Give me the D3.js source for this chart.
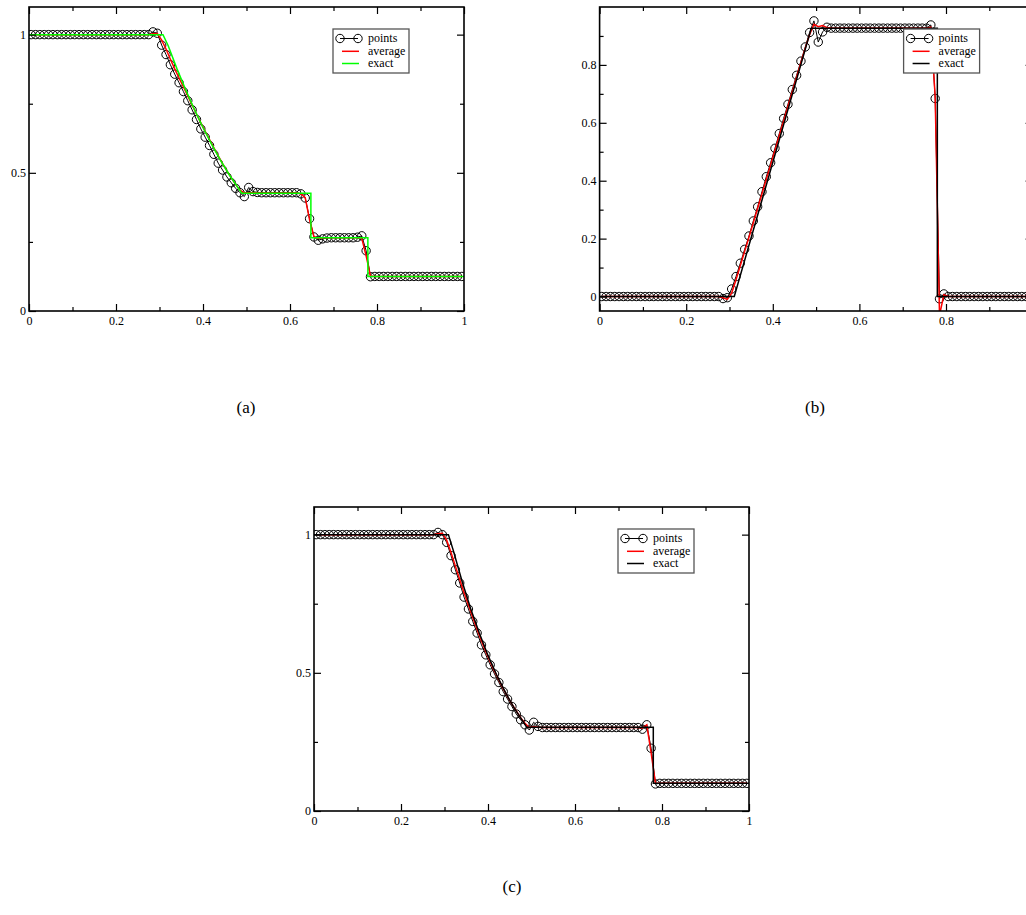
<!DOCTYPE html>
<html>
<head>
<meta charset="utf-8">
<script src="https://cdn.jsdelivr.net/npm/d3@7"></script>
<style>
  body { margin: 0; background: #fff; }
  svg text { font-family: "Liberation Serif", "Times New Roman", serif; fill: #000; }
</style>
</head>
<body>
<svg id="fig" width="1026" height="915"></svg>
<script>
// cell centres shared by the three runs
const xCells = [
  0.005,0.015,0.025,0.035,0.045,0.055,0.065,0.075,0.085,0.095,
  0.105,0.115,0.125,0.135,0.145,0.155,0.165,0.175,0.185,0.195,
  0.205,0.215,0.225,0.235,0.245,0.255,0.265,0.275,0.285,0.295,
  0.305,0.315,0.325,0.335,0.345,0.355,0.365,0.375,0.385,0.395,
  0.405,0.415,0.425,0.435,0.445,0.455,0.465,0.475,0.485,0.495,
  0.505,0.515,0.525,0.535,0.545,0.555,0.565,0.575,0.585,0.595,
  0.605,0.615,0.625,0.635,0.645,0.655,0.665,0.675,0.685,0.695,
  0.705,0.715,0.725,0.735,0.745,0.755,0.765,0.775,0.785,0.795,
  0.805,0.815,0.825,0.835,0.845,0.855,0.865,0.875,0.885,0.895,
  0.905,0.915,0.925,0.935,0.945,0.955,0.965,0.975,0.985,0.995
];

// (a)
const pointsA = [
  1,1,1,1,1,1,1,1,1,1, 1,1,1,1,1,1,1,1,1,1, 1,1,1,1,1,1,1,1,1.01,1.005,
  0.962,0.928,0.891,0.857,0.826,0.794,0.761,0.728,0.693,0.659,
  0.629,0.599,0.567,0.535,0.51,0.485,0.464,0.444,0.428,0.414,
  0.447,0.432,0.429,0.428,0.428,0.428,0.428,0.428,0.428,0.428,
  0.428,0.428,0.424,0.409,0.334,0.268,0.256,0.261,0.264,0.265,
  0.265,0.265,0.265,0.265,0.265,0.267,0.272,0.218,0.124,0.125,
  0.125,0.125,0.125,0.125,0.125,0.125,0.125,0.125,0.125,0.125,
  0.125,0.125,0.125,0.125,0.125,0.125,0.125,0.125,0.125,0.125
];
const averageA = [
  1,1,1,1,1,1,1,1,1,1, 1,1,1,1,1,1,1,1,1,1, 1,1,1,1,1,1,1,1,1.003,1.004,
  0.98,0.948,0.911,0.876,0.843,0.811,0.778,0.746,0.713,0.681,
  0.65,0.62,0.59,0.561,0.533,0.507,0.482,0.458,0.437,0.427,
  0.428,0.428,0.427,0.427,0.427,0.427,0.427,0.427,0.427,0.427,
  0.427,0.427,0.424,0.41,0.33,0.27,0.263,0.264,0.265,0.265,
  0.265,0.265,0.265,0.265,0.265,0.265,0.263,0.2,0.127,0.125,
  0.125,0.125,0.125,0.125,0.125,0.125,0.125,0.125,0.125,0.125,
  0.125,0.125,0.125,0.125,0.125,0.125,0.125,0.125,0.125,0.125
];
const exactAx = [0, 0.308, 0.32, 0.34, 0.36, 0.38, 0.40, 0.42, 0.44, 0.46, 0.489, 0.648, 0.648, 0.779, 0.779, 1];
const exactAy = [1, 1, 0.96, 0.877, 0.801, 0.730, 0.664, 0.603, 0.546, 0.494, 0.426, 0.426, 0.265, 0.265, 0.125, 0.125];

// (b)
const pointsB = [
  0,0,0,0,0,0,0,0,0,0, 0,0,0,0,0,0,0,0,0,0, 0,0,0,0,0,0,0,0,-0.007,-0.004,
  0.026,0.069,0.115,0.163,0.209,0.261,0.31,0.362,0.414,0.462,
  0.512,0.563,0.615,0.664,0.715,0.764,0.813,0.862,0.912,0.952,
  0.879,0.914,0.93,0.927,0.927,0.927,0.927,0.927,0.927,0.927,
  0.927,0.927,0.927,0.927,0.927,0.927,0.927,0.927,0.927,0.927,
  0.927,0.927,0.927,0.927,0.927,0.927,0.938,0.684,-0.008,0.009,
  0,0,0,0,0,0,0,0,0,0, 0,0,0,0,0,0,0,0,0,0
];
const averageB = [
  0,0,0,0,0,0,0,0,0,0, 0,0,0,0,0,0,0,0,0,0, 0,0,0,0,0,0,0,0,-0.004,-0.01,
  0.012,0.058,0.107,0.156,0.205,0.255,0.305,0.355,0.405,0.455,
  0.505,0.556,0.606,0.657,0.707,0.758,0.808,0.858,0.905,0.94,
  0.932,0.936,0.929,0.927,0.927,0.927,0.927,0.927,0.927,0.927,
  0.927,0.927,0.927,0.927,0.927,0.927,0.927,0.927,0.927,0.927,
  0.927,0.927,0.927,0.927,0.927,0.927,0.93,0.69,-0.065,0.006,
  0,0,0,0,0,0,0,0,0,0, 0,0,0,0,0,0,0,0,0,0
];
const exactBx = [0, 0.311, 0.489, 0.78, 0.78, 1];
const exactBy = [0, 0, 0.927, 0.927, 0, 0];

// (c)
const pointsC = [
  1,1,1,1,1,1,1,1,1,1, 1,1,1,1,1,1,1,1,1,1, 1,1,1,1,1,1,1,1,1.008,1.0,
  0.972,0.924,0.873,0.825,0.774,0.731,0.686,0.644,0.601,0.565,
  0.529,0.496,0.465,0.432,0.405,0.378,0.351,0.33,0.312,0.293,
  0.321,0.306,0.302,0.302,0.302,0.302,0.302,0.302,0.302,0.302,
  0.302,0.302,0.302,0.302,0.302,0.302,0.302,0.302,0.302,0.302,
  0.302,0.302,0.302,0.302,0.302,0.296,0.312,0.227,0.098,0.1,
  0.1,0.1,0.1,0.1,0.1,0.1,0.1,0.1,0.1,0.1, 0.1,0.1,0.1,0.1,0.1,0.1,0.1,0.1,0.1,0.1
];
const averageC = [
  1,1,1,1,1,1,1,1,1,1, 1,1,1,1,1,1,1,1,1,1, 1,1,1,1,1,1,1,1,1.003,1.005,
  0.98,0.935,0.886,0.838,0.79,0.745,0.7,0.657,0.615,0.576,
  0.54,0.506,0.474,0.443,0.414,0.387,0.362,0.338,0.317,0.302,
  0.305,0.303,0.302,0.302,0.302,0.302,0.302,0.302,0.302,0.302,
  0.302,0.302,0.302,0.302,0.302,0.302,0.302,0.302,0.302,0.302,
  0.302,0.302,0.302,0.302,0.302,0.3,0.312,0.21,0.1,0.1,
  0.1,0.1,0.1,0.1,0.1,0.1,0.1,0.1,0.1,0.1, 0.1,0.1,0.1,0.1,0.1,0.1,0.1,0.1,0.1,0.1
];
const exactCx = [0, 0.309, 0.32, 0.34, 0.36, 0.38, 0.40, 0.42, 0.44, 0.46, 0.489, 0.78, 0.78, 1];
const exactCy = [1, 1, 0.944, 0.833, 0.733, 0.644, 0.563, 0.492, 0.429, 0.373, 0.303, 0.303, 0.1, 0.1];

const xMajor = [0, 0.2, 0.4, 0.6, 0.8, 1];
const xMinor = [0.1, 0.3, 0.5, 0.7, 0.9];
const legendLabels = ['points', 'average', 'exact'];
const captions = ['(a)', '(b)', '(c)'];

const W = 1026;
const svg = d3.select('#fig');
const fmt = d => String(+(+d).toFixed(2));

function panel(id, o) {
  const w = o.w, h = 304;
  const x = d3.scaleLinear().domain([0, 1]).range([0, w]);
  const y = d3.scaleLinear().domain(o.yDomain).range([h, 0]);
  const g = svg.append('g').attr('transform', 'translate(' + o.left + ',' + o.top + ')');

  g.append('clipPath').attr('id', 'clip' + id)
    .append('rect').attr('width', w).attr('height', h);

  const plot = g.append('g').attr('clip-path', 'url(#clip' + id + ')');
  const pts = xCells.map((d, i) => [d, o.points[i]]);
  const line = d3.line().x(d => x(d[0])).y(d => y(d[1]));

  plot.append('path').attr('d', line(pts))
    .attr('fill', 'none').attr('stroke', '#000').attr('stroke-width', 1);
  plot.selectAll('circle').data(pts).enter().append('circle')
    .attr('cx', d => x(d[0])).attr('cy', d => y(d[1])).attr('r', 4.2)
    .attr('fill', 'none').attr('stroke', '#000').attr('stroke-width', 1);
  plot.append('path').attr('d', line(xCells.map((d, i) => [d, o.average[i]])))
    .attr('fill', 'none').attr('stroke', '#ff0000').attr('stroke-width', 1.5);
  plot.append('path').attr('d', line(o.exactX.map((d, i) => [d, o.exactY[i]])))
    .attr('fill', 'none').attr('stroke', o.exactColor).attr('stroke-width', 1.5);

  // ticks on all four sides, pointing inwards
  const axes = [
    [d3.axisBottom(x), xMajor, xMinor, 'translate(0,' + h + ')', true],
    [d3.axisTop(x), xMajor, xMinor, null, false],
    [d3.axisLeft(y), o.yMajor, o.yMinor, null, true],
    [d3.axisRight(y), o.yMajor, o.yMinor, 'translate(' + w + ',0)', false]
  ];
  axes.forEach((a, k) => {
    const maj = a[0].tickValues(a[1]).tickSizeInner(-7).tickSizeOuter(0)
      .tickPadding(k === 2 ? 3 : 5).tickFormat(a[4] ? fmt : '');
    const ga = g.append('g').attr('transform', a[3]).call(maj);
    ga.select('.domain').remove();
    ga.selectAll('text').style('font-size', '12px').style('font-family', '"Liberation Serif", serif');
    // labels past the window edge are not shown in the figure
    if (k === 0) ga.selectAll('.tick').filter(d => o.left + x(d) + 4 > W).select('text').remove();
    ga.selectAll('line').attr('stroke-width', 1.2);
    const gm = g.append('g').attr('transform', a[3])
      .call(a[0].tickValues(a[2]).tickSizeInner(-4).tickFormat(''));
    gm.select('.domain').remove();
    gm.selectAll('line').attr('stroke-width', 1.2);
  });

  g.append('rect').attr('width', w).attr('height', h)
    .attr('fill', 'none').attr('stroke', '#000').attr('stroke-width', 1.6);

  // legend
  const lg = g.append('g').attr('transform', 'translate(304,22)');
  lg.append('rect').attr('width', 76).attr('height', 44)
    .attr('fill', '#fff').attr('stroke', '#555').attr('stroke-width', 1.3);
  lg.append('line').attr('x1', 7).attr('x2', 25).attr('y1', 9.5).attr('y2', 9.5)
    .attr('stroke', '#000').attr('stroke-width', 1);
  lg.selectAll('circle').data([7, 25]).enter().append('circle')
    .attr('cx', d => d).attr('cy', 9.5).attr('r', 4.2)
    .attr('fill', 'none').attr('stroke', '#000').attr('stroke-width', 1);
  lg.append('line').attr('x1', 9).attr('x2', 26).attr('y1', 22.3).attr('y2', 22.3)
    .attr('stroke', '#ff0000').attr('stroke-width', 1.5);
  lg.append('line').attr('x1', 9).attr('x2', 26).attr('y1', 34.5).attr('y2', 34.5)
    .attr('stroke', o.exactColor).attr('stroke-width', 1.5);
  lg.selectAll('text').data(legendLabels).enter().append('text')
    .attr('x', 35).attr('y', (d, i) => [9.5, 22, 34.5][i]).attr('dy', '0.3em')
    .style('font-size', '12px').text(d => d);

  svg.append('text').attr('x', o.capX).attr('y', o.capY).attr('dy', '0.35em')
    .attr('text-anchor', 'middle').style('font-size', '17px').text(o.caption);
}

panel('a', { left: 29, top: 7, w: 435, yDomain: [0, 1.1], yMajor: [0, 0.5, 1], yMinor: [0.25, 0.75],
  points: pointsA, average: averageA, exactX: exactAx, exactY: exactAy, exactColor: '#00ff00',
  caption: captions[0], capX: 246, capY: 407 });
panel('b', { left: 599.6, top: 7, w: 433, yDomain: [-0.05, 1.0], yMajor: [0, 0.2, 0.4, 0.6, 0.8], yMinor: [0.1, 0.3, 0.5, 0.7, 0.9],
  points: pointsB, average: averageB, exactX: exactBx, exactY: exactBy, exactColor: '#000',
  caption: captions[1], capX: 815, capY: 407 });
panel('c', { left: 314, top: 507, w: 435, yDomain: [0, 1.1], yMajor: [0, 0.5, 1], yMinor: [0.25, 0.75],
  points: pointsC, average: averageC, exactX: exactCx, exactY: exactCy, exactColor: '#000',
  caption: captions[2], capX: 512, capY: 886 });
</script>
</body>
</html>
